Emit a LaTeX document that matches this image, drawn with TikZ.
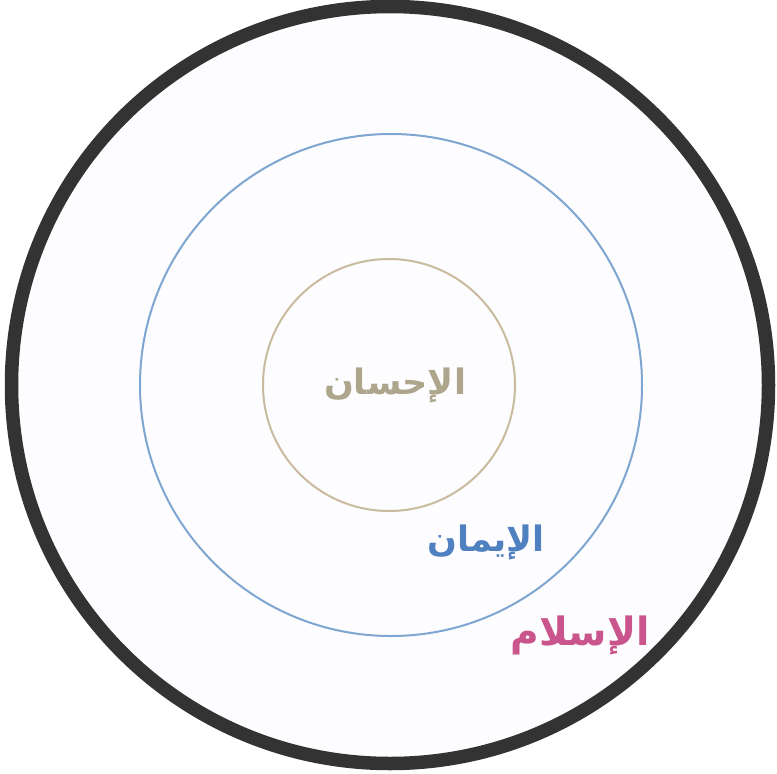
\documentclass[tikz,border=0pt]{standalone}
\usepackage{fontspec}
\newfontfamily\arabicfont[Script=Arabic]{DejaVu Sans}
\TeXXeTstate=1
\definecolor{ringdark}{HTML}{333333}
\definecolor{ringblue}{HTML}{7FA6D0}
\definecolor{ringtan}{HTML}{C9BC9E}
\definecolor{txttan}{HTML}{ADA68C}
\definecolor{txtblue}{HTML}{4F80C0}
\definecolor{txtpink}{HTML}{C9558C}
\definecolor{disc}{HTML}{FDFCFE}
\begin{document}
\begin{tikzpicture}[x=1pt,y=-1pt,
  lbl/.style={font=\arabicfont\bfseries\fontsize{35}{40}\selectfont, inner sep=0pt}]
\useasboundingbox (0,0) rectangle (777,774);
\fill[white] (0,0) rectangle (777,774);
\coordinate (c) at (390,385);
\draw[ringdark, line width=13.5pt, fill=disc] (c) circle (378.5);
\draw[ringblue, line width=2pt] (391,385) circle (251);
\draw[ringtan, line width=2pt] (389,385) circle (126);
\node[lbl, text=txttan] (ihsan) at (395,385) {\beginR الإحسان\endR};
\node[lbl, text=txtblue] (iman) at (486,542) {\beginR الإيمان\endR};
\node[lbl, text=txtpink, font=\arabicfont\bfseries\fontsize{39}{44}\selectfont] (islam) at (580,635) {\beginR الإسلام\endR};
\end{tikzpicture}
\end{document}
